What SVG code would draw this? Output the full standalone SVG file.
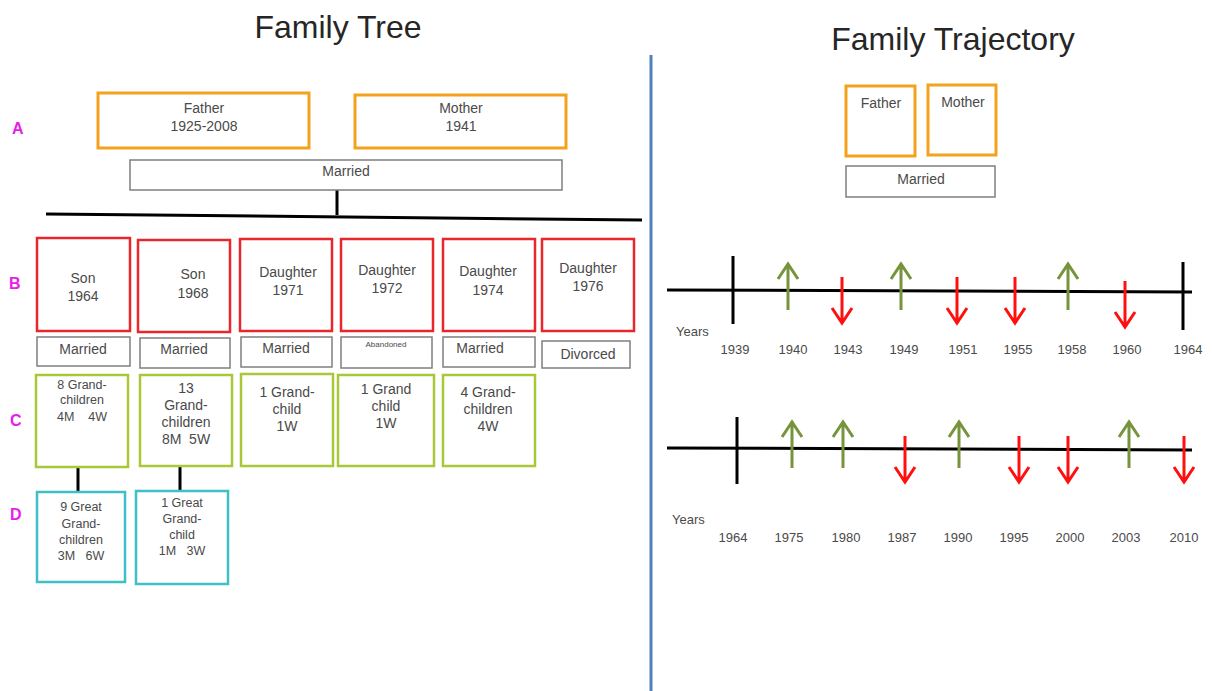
<svg xmlns="http://www.w3.org/2000/svg" width="1212" height="691" viewBox="0 0 1212 691">
<style>
text{font-family:"Liberation Sans",Arial,sans-serif;fill:#4a4a4a;}
.t{font-size:14px;text-anchor:middle;}
.s{font-size:12.5px;text-anchor:middle;}
.title{font-size:32px;text-anchor:middle;fill:#262626;}
.lbl{font-size:16px;font-weight:bold;fill:#e620e6;}
.yr{font-size:13px;text-anchor:middle;}
.par{fill:#fff;stroke:#f4a11c;stroke-width:3;}
.ch{fill:#fff;stroke:#e8262b;stroke-width:2.5;}
.gc{fill:#fff;stroke:#a8c83a;stroke-width:2.5;}
.gg{fill:#fff;stroke:#3fc0c6;stroke-width:2.5;}
.st{fill:#fff;stroke:#7f7f7f;stroke-width:1.5;}
.ln{stroke:#000;stroke-width:3;fill:none;}
.up{stroke:#77933c;stroke-width:3;fill:none;}
.dn{stroke:#ff1010;stroke-width:3;fill:none;}
</style>
<defs>
<g id="arrowUp" class="up"><path d="M0,0V46M-10,15L0,0L10,15"/></g>
<g id="arrowDown" class="dn"><path d="M0,0V46M-10,31L0,46L10,31"/></g>
</defs>
<rect width="1212" height="691" fill="#fff"/>

<text class="title" x="338" y="38">Family Tree</text>
<text class="title" x="953" y="50">Family Trajectory</text>
<line x1="651" y1="55" x2="651" y2="691" stroke="#4f81bd" stroke-width="3"/>

<text class="lbl" x="12" y="134">A</text>
<text class="lbl" x="9" y="289">B</text>
<text class="lbl" x="10" y="426">C</text>
<text class="lbl" x="10" y="520">D</text>

<g id="connectors">
<line class="ln" x1="337" y1="190" x2="337" y2="215"/>
<line class="ln" x1="46" y1="214" x2="642" y2="220"/>
<line class="ln" x1="78" y1="467" x2="78" y2="492"/>
<line class="ln" x1="180" y1="466" x2="180" y2="491"/>
</g>

<g id="father"><rect class="par" x="98" y="93" width="211" height="55"/><text class="t" x="204" y="113">Father</text><text class="t" x="204" y="131">1925-2008</text></g>
<g id="mother"><rect class="par" x="355" y="95" width="211" height="53"/><text class="t" x="461" y="113">Mother</text><text class="t" x="461" y="131">1941</text></g>
<g id="married"><rect class="st" x="130" y="160" width="432" height="30"/><text class="t" x="346" y="176">Married</text></g>

<g id="son1964"><rect class="ch" x="37" y="238" width="93" height="93"/><text class="t" x="83" y="283">Son</text><text class="t" x="83" y="301">1964</text></g>
<g id="son1968"><rect class="ch" x="138" y="240" width="92" height="92"/><text class="t" x="193" y="279">Son</text><text class="t" x="193" y="298">1968</text></g>
<g id="daughter1971"><rect class="ch" x="240" y="239" width="92" height="92"/><text class="t" x="288" y="277">Daughter</text><text class="t" x="288" y="295">1971</text></g>
<g id="daughter1972"><rect class="ch" x="341" y="239" width="92" height="92"/><text class="t" x="387" y="275">Daughter</text><text class="t" x="387" y="293">1972</text></g>
<g id="daughter1974"><rect class="ch" x="443" y="239" width="92" height="92"/><text class="t" x="488" y="276">Daughter</text><text class="t" x="488" y="295">1974</text></g>
<g id="daughter1976"><rect class="ch" x="542" y="239" width="92" height="92"/><text class="t" x="588" y="273">Daughter</text><text class="t" x="588" y="291">1976</text></g>

<g id="status1"><rect class="st" x="37" y="337" width="93" height="29"/><text class="t" x="83" y="354">Married</text></g>
<g id="status2"><rect class="st" x="140" y="338" width="90" height="30"/><text class="t" x="184" y="354">Married</text></g>
<g id="status3"><rect class="st" x="241" y="337" width="91" height="30"/><text class="t" x="286" y="353">Married</text></g>
<g id="status4"><rect class="st" x="341" y="337" width="91" height="31"/><text class="t" x="386" y="347" style="font-size:8px">Abandoned</text></g>
<g id="status5"><rect class="st" x="443" y="337" width="92" height="30"/><text class="t" x="480" y="353">Married</text></g>
<g id="status6"><rect class="st" x="542" y="341" width="88" height="27"/><text class="t" x="588" y="359">Divorced</text></g>

<g id="gc1"><rect class="gc" x="36" y="375" width="92" height="92"/><text class="s" x="82" y="389">8 Grand-</text><text class="s" x="82" y="404">children</text><text class="s" x="82" y="421" xml:space="preserve">4M    4W</text></g>
<g id="gc2"><rect class="gc" x="140" y="375" width="92" height="91"/><text class="t" x="186" y="393">13</text><text class="t" x="186" y="410">Grand-</text><text class="t" x="186" y="427">children</text><text class="t" x="186" y="444" xml:space="preserve">8M  5W</text></g>
<g id="gc3"><rect class="gc" x="241" y="374" width="92" height="92"/><text class="t" x="287" y="397">1 Grand-</text><text class="t" x="287" y="414">child</text><text class="t" x="287" y="431">1W</text></g>
<g id="gc4"><rect class="gc" x="338" y="375" width="96" height="91"/><text class="t" x="386" y="394">1 Grand</text><text class="t" x="386" y="411">child</text><text class="t" x="386" y="428">1W</text></g>
<g id="gc5"><rect class="gc" x="443" y="375" width="92" height="91"/><text class="t" x="488" y="397">4 Grand-</text><text class="t" x="488" y="414">children</text><text class="t" x="488" y="431">4W</text></g>

<g id="ggc1"><rect class="gg" x="37" y="492" width="88" height="90"/><text class="s" x="81" y="511">9 Great</text><text class="s" x="81" y="528">Grand-</text><text class="s" x="81" y="544">children</text><text class="s" x="81" y="560" xml:space="preserve">3M   6W</text></g>
<g id="ggc2"><rect class="gg" x="136" y="491" width="92" height="93"/><text class="s" x="182" y="507">1 Great</text><text class="s" x="182" y="523">Grand-</text><text class="s" x="182" y="539">child</text><text class="s" x="182" y="555" xml:space="preserve">1M   3W</text></g>

<g id="trajFather"><rect class="par" x="846" y="86" width="69" height="70"/><text class="t" x="881" y="108">Father</text></g>
<g id="trajMother"><rect class="par" x="928" y="85" width="68" height="70"/><text class="t" x="963" y="107">Mother</text></g>
<g id="trajMarried"><rect class="st" x="846" y="166" width="149" height="31"/><text class="t" x="921" y="184">Married</text></g>

<g id="timeline1">
<line class="ln" x1="667" y1="290" x2="1192" y2="292"/>
<line class="ln" x1="733" y1="256" x2="733" y2="324"/>
<line class="ln" x1="1183" y1="262" x2="1183" y2="330"/>
<use href="#arrowUp" x="788" y="264"/>
<use href="#arrowUp" x="901" y="264"/>
<use href="#arrowUp" x="1068" y="264"/>
<use href="#arrowDown" x="842" y="277"/>
<use href="#arrowDown" x="957" y="277"/>
<use href="#arrowDown" x="1015" y="277"/>
<use href="#arrowDown" x="1125" y="281"/>
<text x="676" y="336" style="font-size:13px">Years</text>
<text class="yr" x="735" y="354">1939</text>
<text class="yr" x="793" y="354">1940</text>
<text class="yr" x="848" y="354">1943</text>
<text class="yr" x="904" y="354">1949</text>
<text class="yr" x="963" y="354">1951</text>
<text class="yr" x="1018" y="354">1955</text>
<text class="yr" x="1072" y="354">1958</text>
<text class="yr" x="1127" y="354">1960</text>
<text class="yr" x="1188" y="354">1964</text>
</g>

<g id="timeline2">
<line class="ln" x1="667" y1="448" x2="1192" y2="450"/>
<line class="ln" x1="737" y1="417" x2="737" y2="484"/>
<use href="#arrowUp" x="792" y="422"/>
<use href="#arrowUp" x="843" y="422"/>
<use href="#arrowUp" x="959" y="422"/>
<use href="#arrowUp" x="1129" y="422"/>
<use href="#arrowDown" x="905" y="436"/>
<use href="#arrowDown" x="1019" y="436"/>
<use href="#arrowDown" x="1068" y="436"/>
<use href="#arrowDown" x="1184" y="436"/>
<text x="672" y="524" style="font-size:13px">Years</text>
<text class="yr" x="733" y="542">1964</text>
<text class="yr" x="789" y="542">1975</text>
<text class="yr" x="846" y="542">1980</text>
<text class="yr" x="902" y="542">1987</text>
<text class="yr" x="958" y="542">1990</text>
<text class="yr" x="1014" y="542">1995</text>
<text class="yr" x="1070" y="542">2000</text>
<text class="yr" x="1126" y="542">2003</text>
<text class="yr" x="1184" y="542">2010</text>
</g>
</svg>
